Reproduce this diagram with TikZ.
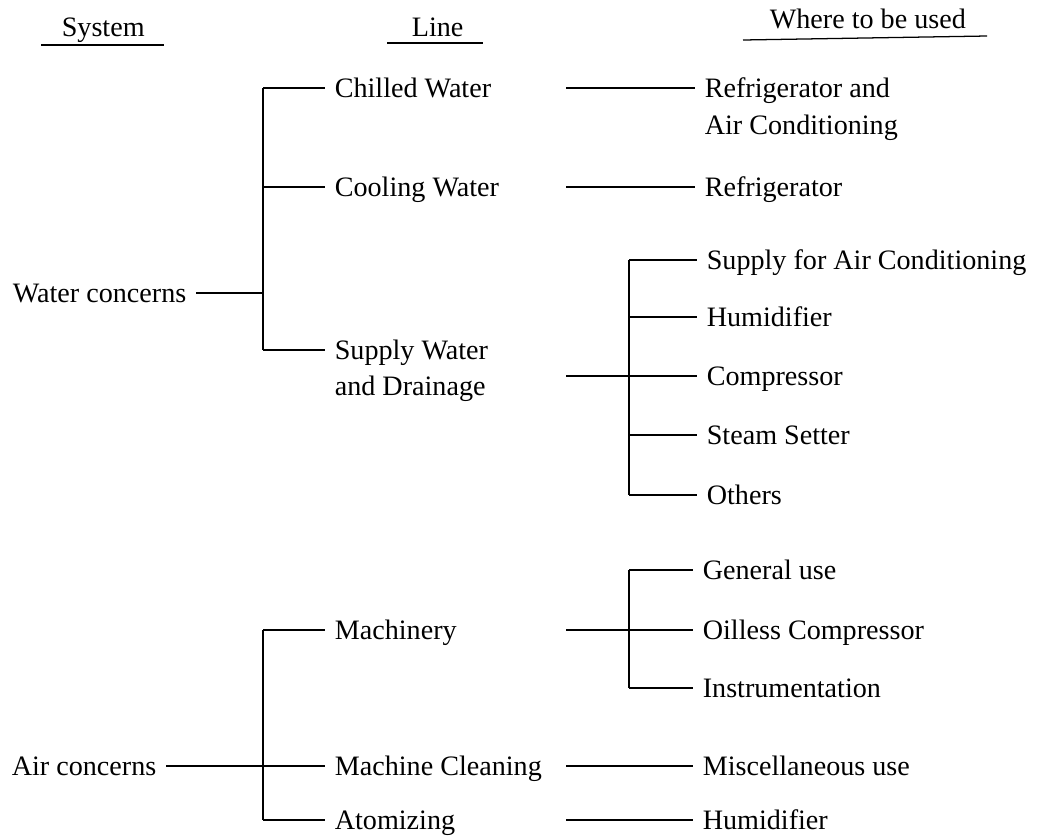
\documentclass[tikz,border=0pt]{standalone}
\usepackage{fontspec}
\setmainfont{Liberation Serif}
\usetikzlibrary{calc}

\tikzset{
	lbl/.style={font=\fontsize{20}{24}\selectfont, anchor=west, inner sep=0pt,
		outer xsep=7pt, outer ysep=0pt, text height=13pt, text depth=0pt},
	bar/.style={line width=1.3pt},
	arm/.style={line width=0.9pt},
}

\begin{document}
\begin{tikzpicture}[x=0.025cm, y=-0.025cm]
			\useasboundingbox (0,0) rectangle (1041,837);
			
			\def\xa{263};
			\def\xb{566};
			\def\xc{629};
			
			%headings
			\node[lbl] (hsys) at (52,27) {System};
			\node[lbl] (hline) at (402,27) {Line};
			\node[lbl] (hwhere) at (760,19) {Where to be used};
			\draw[arm] (41,45) -- (164,45);
			\draw[arm] (387,43) -- (483,43);
			\draw[arm] (743,40) -- (987,36);
			
			%water concerns
			\node[lbl] (water) at (3,293) {Water concerns};
			\node[lbl] (chilled) at (325,88) {Chilled Water};
			\node[lbl] (cooling) at (325,187) {Cooling Water};
			\node[lbl] (supply) at (325,350) {Supply Water};
			\node[lbl] (supply2) at (325,386) {and Drainage};
			
			\coordinate (w1) at (\xa,88);
			\coordinate (w2) at (\xa,187);
			\coordinate (w3) at (\xa,293);
			\coordinate (w4) at (\xa,350);
			
			\draw[bar] (w1) -- (w4);
			\draw[arm] (water.east) -- (w3);
			\draw[arm] (w1) -- (chilled.west);
			\draw[arm] (w2) -- (cooling.west);
			\draw[arm] (w4) -- (supply.west);
			
			\node[lbl] (refac) at (695,88) {Refrigerator and};
			\node[lbl] (refac2) at (695,125) {Air Conditioning};
			\node[lbl] (refr) at (695,187) {Refrigerator};
			
			\coordinate (r1) at (\xb,88);
			\coordinate (r2) at (\xb,187);
			\coordinate (r3) at (\xb,376);
			
			\draw[arm] (r1) -- (refac.west);
			\draw[arm] (r2) -- (refr.west);
			
			%supply water branches
			\node[lbl] (sac) at (697,260) {Supply for Air Conditioning};
			\node[lbl] (hum) at (697,317) {Humidifier};
			\node[lbl] (comp) at (697,376) {Compressor};
			\node[lbl] (steam) at (697,435) {Steam Setter};
			\node[lbl] (other) at (697,495) {Others};
			
			\coordinate (s1) at (\xc,260);
			\coordinate (s2) at (\xc,317);
			\coordinate (s3) at (\xc,376);
			\coordinate (s4) at (\xc,435);
			\coordinate (s5) at (\xc,495);
			
			\draw[bar] (s1) -- (s5);
			\draw[arm] (r3) -- (comp.west);
			\draw[arm] (s1) -- (sac.west);
			\draw[arm] (s2) -- (hum.west);
			\draw[arm] (s4) -- (steam.west);
			\draw[arm] (s5) -- (other.west);
			
			%air concerns
			\node[lbl] (air) at (2,766) {Air concerns};
			\node[lbl] (mach) at (325,630) {Machinery};
			\node[lbl] (clean) at (325,766) {Machine Cleaning};
			\node[lbl] (atom) at (325,820) {Atomizing};
			
			\coordinate (a1) at (\xa,630);
			\coordinate (a2) at (\xa,766);
			\coordinate (a3) at (\xa,820);
			
			\draw[bar] (a1) -- (a3);
			\draw[arm] (air.east) -- (clean.west);
			\draw[arm] (a1) -- (mach.west);
			\draw[arm] (a3) -- (atom.west);
			
			\node[lbl] (gen) at (693,570) {General use};
			\node[lbl] (oil) at (693,630) {Oilless Compressor};
			\node[lbl] (inst) at (693,688) {Instrumentation};
			\node[lbl] (misc) at (693,766) {Miscellaneous use};
			\node[lbl] (hum2) at (693,820) {Humidifier};
			
			\coordinate (m1) at (\xc,570);
			\coordinate (m3) at (\xc,688);
			\coordinate (r4) at (\xb,630);
			\coordinate (r5) at (\xb,766);
			\coordinate (r6) at (\xb,820);
			
			\draw[bar] (m1) -- (m3);
			\draw[arm] (r4) -- (oil.west);
			\draw[arm] (m1) -- (gen.west);
			\draw[arm] (m3) -- (inst.west);
			\draw[arm] (r5) -- (misc.west);
			\draw[arm] (r6) -- (hum2.west);
		\end{tikzpicture}
\end{document}
